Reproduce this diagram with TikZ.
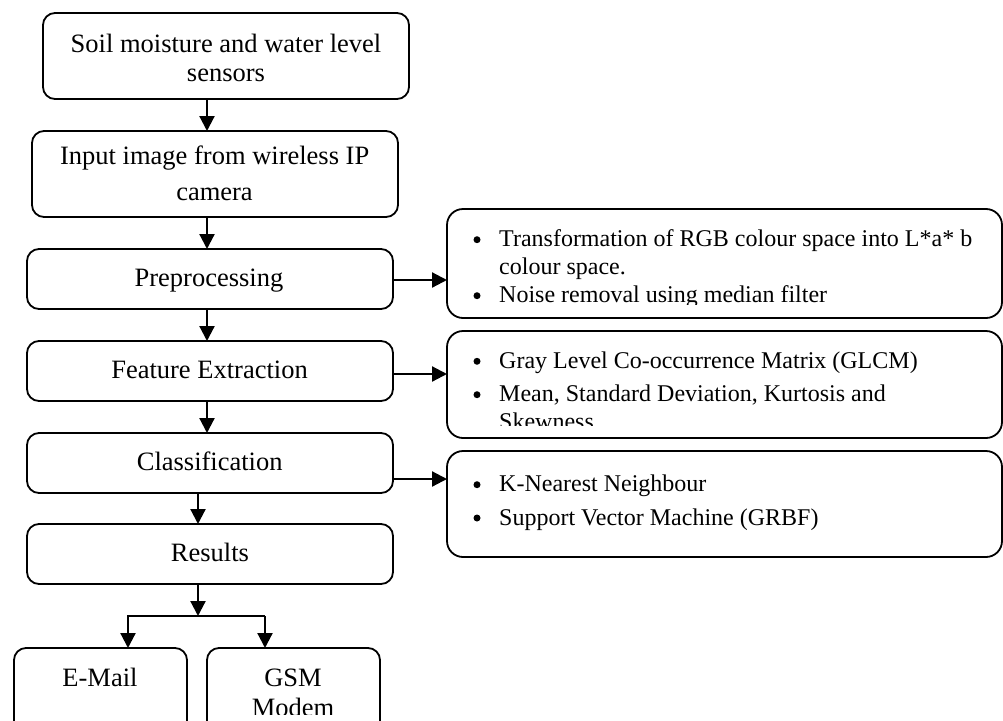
\documentclass[tikz,border=0pt]{standalone}
\usepackage{fontspec}
\setmainfont{Liberation Serif}
\usetikzlibrary{arrows.meta}
\begin{document}
\begin{tikzpicture}[x=1pt,y=-1pt,
  lbox/.style={draw, line width=1.8pt, rounded corners=12pt, inner sep=0pt, outer sep=0pt},
  rbox/.style={draw, line width=1.8pt, rounded corners=16pt, inner sep=0pt, outer sep=0pt},
  ltext/.style={font=\fontsize{26.5}{30}\selectfont, anchor=base, inner sep=0pt},
  rtext/.style={font=\fontsize{24}{28}\selectfont, anchor=base west, inner sep=0pt},
  bul/.style={circle, fill, inner sep=0pt, minimum size=7pt},
  conn/.style={line width=2.2pt},
  arr/.style={line width=2.2pt, -{Triangle[length=15pt,width=15pt]}}]
\clip (0,0) rectangle (1003,720);
\fill[white] (0,0) rectangle (1003,720);
% left column boxes
\node[lbox, minimum width=366pt, minimum height=86pt] (b1) at (226,56) {};
\node[lbox, minimum width=366pt, minimum height=86pt] (b2) at (215,174) {};
\node[lbox, minimum width=366pt, minimum height=60pt] (b3) at (210,279) {};
\node[lbox, minimum width=366pt, minimum height=60pt] (b4) at (210,371) {};
\node[lbox, minimum width=366pt, minimum height=60pt] (b5) at (210,463) {};
\node[lbox, minimum width=366pt, minimum height=60pt] (b6) at (210,554) {};
\node[lbox, minimum width=173pt, minimum height=100pt] (b7) at (100.5,698) {};
\node[lbox, minimum width=173pt, minimum height=100pt] (b8) at (293.5,698) {};
% right column boxes
\node[rbox, minimum width=555pt, minimum height=109pt] (r1) at (724.5,263.5) {};
\node[rbox, minimum width=555pt, minimum height=107pt] (r2) at (724.5,384.5) {};
\node[rbox, minimum width=555pt, minimum height=106pt] (r3) at (724.5,504) {};
% left texts
\node[ltext] (t1a) at (226,52.7) {Soil moisture and water level};
\node[ltext] (t1b) at (226,81.5) {sensors};
\node[ltext] (t2a) at (214.7,164) {Input image from wireless IP};
\node[ltext] (t2b) at (214.5,200) {camera};
\node[ltext] (t3) at (209,286.7) {Preprocessing};
\node[ltext] (t4) at (209.5,378.3) {Feature Extraction};
\node[ltext] (t5) at (209.7,470) {Classification};
\node[ltext] (t6) at (210,561.7) {Results};
\node[ltext] (t7) at (100,686) {E-Mail};
\begin{scope}
\clip (207,648) rectangle (380,714);
\node[ltext] (t8a) at (293,686) {GSM};
\node[ltext] (t8b) at (293,716) {Modem};
\end{scope}
% right texts
\begin{scope}
\clip (447,209) rectangle (1003,304);
\node[bul] (u1a) at (477,239.7) {};
\node[rtext] (s1a) at (499,246.7) {Transformation of RGB colour space into L*a* b};
\node[rtext] (s1b) at (499,274.5) {colour space.};
\node[bul] (u1b) at (477,295.7) {};
\node[rtext] (s1c) at (499,302.7) {Noise removal using median filter};
\end{scope}
\begin{scope}
\clip (447,331) rectangle (1003,425);
\node[bul] (u2a) at (477,361.3) {};
\node[rtext] (s2a) at (499,368.3) {Gray Level Co-occurrence Matrix (GLCM)};
\node[bul] (u2b) at (477,394.7) {};
\node[rtext] (s2b) at (499,401.7) {Mean, Standard Deviation, Kurtosis and};
\node[rtext] (s2c) at (499,429.7) {Skewness};
\end{scope}
\node[bul] (u3a) at (477,484.7) {};
\node[rtext] (s3a) at (499,491.7) {K-Nearest Neighbour};
\node[bul] (u3b) at (477,518) {};
\node[rtext] (s3b) at (499,525) {Support Vector Machine (GRBF)};
% connectors
\coordinate (xa) at (207,0);
\coordinate (xb) at (198,0);
\coordinate (jn) at (198,616);
\coordinate (jl) at (128,616);
\coordinate (jr) at (265,616);
\draw[arr] (b1.south -| xa) -- (b2.north -| xa);
\draw[arr] (b2.south -| xa) -- (b3.north -| xa);
\draw[arr] (b3.south -| xa) -- (b4.north -| xa);
\draw[arr] (b4.south -| xa) -- (b5.north -| xa);
\draw[arr] (b5.south -| xb) -- (b6.north -| xb);
\draw[arr] (b6.south -| xb) -- (jn);
\draw[arr] (jr) -- (jl) -- (b7.north -| jl);
\draw[arr] (jr) -- (b8.north -| jr);
\draw[arr] ([yshift=-1pt]b3.east) -- ([yshift=-1pt]b3.east -| r1.west);
\draw[arr] ([yshift=-3pt]b4.east) -- ([yshift=-3pt]b4.east -| r2.west);
\draw[arr] ([yshift=-16pt]b5.east) -- ([yshift=-16pt]b5.east -| r3.west);
\end{tikzpicture}
\end{document}
